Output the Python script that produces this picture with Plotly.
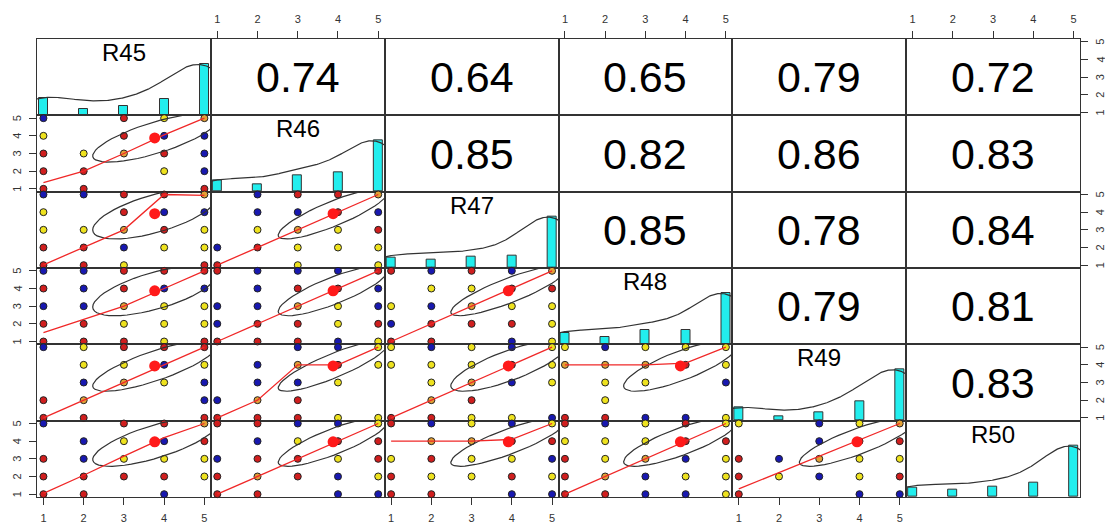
import numpy as np
import plotly.graph_objects as go

variables = ["R45", "R46", "R47", "R48", "R49", "R50"]
levels = [1, 2, 3, 4, 5]
tick_labels = ["1", "2", "3", "4", "5"]

count_R45 = [20, 7, 11, 19, 58]
count_R46 = [12, 8, 18, 21, 56]
count_R47 = [13, 10, 14, 15, 63]
count_R48 = [13, 9, 17, 17, 59]
count_R49 = [16, 5, 10, 23, 61]
count_R50 = [12, 9, 13, 18, 63]

# correlations shown in the upper panels (row variable with the following ones)
cor_R45 = [0.74, 0.64, 0.65, 0.79, 0.72]
cor_R46 = [0.85, 0.82, 0.86, 0.83]
cor_R47 = [0.85, 0.78, 0.84]
cor_R48 = [0.79, 0.81]
cor_R49 = [0.83]

# scatter points: rows are y = 5..1, characters are x = 1..5
# r = red, y = yellow, b = blue, o = orange, . = no point
pts_R46_R45 = ["b.ryo", "y.rbb", "ryorb", "rr.yb", "rr..r"]
pts_R47_R45 = ["bbrro", "y.rbb", "yyory", "rrbyy", "rry.r"]
pts_R47_R46 = [".brro", ".bbrb", ".yoyr", "bryyy", "r.y.y"]
pts_R48_R45 = ["bbrrr", "rbrbb", "bboyy", "rryyy", "rrryr"]
pts_R48_R46 = ["rbbbr", ".brrb", "bboyb", "brryr", "rrrby"]
pts_R48_R47 = ["rbrbo", ".yyrr", "yboyy", "brrry", "rr.by"]
pts_R49_R45 = ["byrrr", ".yyby", ".boyb", "ro..b", "rr..r"]
pts_R49_R46 = ["..bby", ".bory", ".bby.", "bor..", "rrryy"]
pts_R49_R47 = ["ybyby", "yyyry", ".yoby", ".or..", "rryyb"]
pts_R49_R48 = ["ybyyy", "ooory", ".yy.b", ".y...", "rrbby"]
pts_R50_R45 = ["b.rro", ".bybr", "rbyyy", "rrrry", "rr.b."]
pts_R50_R46 = ["rrbby", ".byrr", "brryr", "rorby", "rr.bb"]
pts_R50_R47 = ["rbyby", ".oorr", "yryyb", "ryyry", "rr.bb"]
pts_R50_R48 = ["rbyry", "yyyrr", "ryoby", "robyy", "rrbby"]
pts_R50_R49 = ["y.byo", "..brr", "rboyy", "rybyr", "r..bb"]

# lowess smooth values at x = 1..5
low_R46_R45 = [1.35, 2.0, 3.0, 4.05, 5.0]
low_R47_R45 = [1.02, 2.0, 3.0, 5.0, 4.95]
low_R47_R46 = [1.0, 2.0, 3.0, 4.0, 5.0]
low_R48_R45 = [1.5, 2.23, 3.0, 4.0, 5.0]
low_R48_R46 = [1.0, 2.0, 3.0, 4.0, 5.0]
low_R48_R47 = [1.0, 2.0, 3.0, 4.0, 5.0]
low_R49_R45 = [1.0, 2.0, 3.0, 4.0, 5.0]
low_R49_R46 = [1.0, 2.0, 4.0, 4.0, 5.0]
low_R49_R47 = [1.0, 2.0, 3.0, 4.0, 5.0]
low_R49_R48 = [4.0, 4.0, 4.0, 4.1, 5.0]
low_R50_R45 = [1.05, 2.07, 3.15, 4.2, 5.0]
low_R50_R46 = [1.0, 2.0, 3.0, 4.0, 5.0]
low_R50_R47 = [4.0, 4.0, 4.0, 4.1, 5.0]
low_R50_R48 = [1.0, 2.0, 3.0, 4.0, 5.0]
low_R50_R49 = [1.3, 2.23, 3.15, 4.08, 5.0]

counts = {"R45": count_R45, "R46": count_R46, "R47": count_R47,
          "R48": count_R48, "R49": count_R49, "R50": count_R50}
cors = {"R45": cor_R45, "R46": cor_R46, "R47": cor_R47, "R48": cor_R48, "R49": cor_R49}
G = globals()

FONT = "Liberation Sans, Arial, Helvetica, sans-serif"
COLORS = {"r": "#D01E1E", "y": "#EEE21E", "b": "#1818B0", "o": "#E3A035"}
FRAME = "#333333"
XR = [0.84, 5.16]
YR = [0.84, 5.16]
n = len(variables)


def raw(v):
    return np.repeat(levels, counts[v]).astype(float)


def get_r(i, j):
    a, b = min(i, j), max(i, j)
    return cors[variables[a]][b - a - 1]


fig = go.Figure()
layout = {}
annotations = []


def ax(k):
    return ("x" if k == 1 else f"x{k}"), ("y" if k == 1 else f"y{k}")


for r in range(n):
    for c in range(n):
        k = r * n + c + 1
        xa, ya = ax(k)
        xkey = "xaxis" if k == 1 else f"xaxis{k}"
        ykey = "yaxis" if k == 1 else f"yaxis{k}"
        xd = dict(domain=[c / n, (c + 1) / n], range=XR, showline=True, mirror=True,
                  linecolor=FRAME, linewidth=1.3, showgrid=False, zeroline=False,
                  showticklabels=False, ticks="", anchor=ya, layer="below traces",
                  automargin=False, fixedrange=True)
        yd = dict(domain=[(n - 1 - r) / n, (n - r) / n], range=(YR if r != c else [0, 1.5]),
                  showline=True, mirror=True, linecolor=FRAME, linewidth=1.3,
                  showgrid=False, zeroline=False, showticklabels=False, ticks="",
                  anchor=xa, layer="below traces", automargin=False, fixedrange=True)
        tick_marks = dict(ticks="outside", ticklen=7, tickwidth=1, tickcolor=FRAME,
                          tickvals=levels)
        tick_text = dict(showticklabels=True, ticktext=tick_labels,
                         tickfont=dict(family=FONT, size=11, color="#333"))
        if r == 0 and c % 2 == 1:
            xd.update(tick_marks, **tick_text, side="top", ticklabelstandoff=3)
        if r == n - 1 and c % 2 == 0:
            xd.update(tick_marks, **tick_text, side="bottom", ticklabelstandoff=4)
        if c == 0 and r % 2 == 1:
            yd.update(tick_marks, side="left")
            for val, lab in zip(levels, tick_labels):
                annotations.append(dict(text=lab, xref="paper", yref=ya, x=0, y=val,
                                        xshift=-20, xanchor="center", yanchor="middle",
                                        textangle=-90, showarrow=False,
                                        font=dict(family=FONT, size=11, color="#333")))
        if c == n - 1 and r % 2 == 0:
            yd.update(tick_marks, side="right")
            for val, lab in zip(levels, tick_labels):
                annotations.append(dict(text=lab, xref="paper", yref=ya, x=1, y=val,
                                        xshift=20, xanchor="center", yanchor="middle",
                                        textangle=-90, showarrow=False,
                                        font=dict(family=FONT, size=11, color="#333")))
        layout[xkey] = xd
        layout[ykey] = yd

        if r == c:
            v = variables[r]
            cnt = np.array(counts[v], dtype=float)
            fig.add_trace(go.Bar(x=levels, y=cnt / cnt.max(), width=0.22, xaxis=xa, yaxis=ya,
                                 marker=dict(color="#22EEEE", line=dict(color="#333", width=1)),
                                 hoverinfo="skip"))
            data = raw(v)
            sd = data.std(ddof=1)
            q1, q3 = np.percentile(data, [25, 75])
            bw = 1.2 * 1.06 * min(sd, (q3 - q1) / 1.34) * len(data) ** (-0.2)
            grid = np.linspace(data.min() - 3 * bw, data.max() + 3 * bw, 512)
            dens = np.exp(-0.5 * ((grid[:, None] - data[None, :]) / bw) ** 2).sum(axis=1)
            dens = dens / dens.max()
            fig.add_trace(go.Scatter(x=grid, y=dens, mode="lines", xaxis=xa, yaxis=ya,
                                     line=dict(color="#333", width=1.2), hoverinfo="skip"))
            annotations.append(dict(text=v, xref=f"{xa} domain", yref=f"{ya} domain",
                                    x=0.5, y=0.825, xanchor="center", yanchor="middle",
                                    showarrow=False,
                                    font=dict(family=FONT, size=24, color="black")))
        elif r < c:
            # empty trace so that the panel and its frame are drawn
            fig.add_trace(go.Scatter(x=[None], y=[None], mode="markers", xaxis=xa, yaxis=ya,
                                     hoverinfo="skip"))
            annotations.append(dict(text=f"{get_r(r, c):.2f}", xref=f"{xa} domain",
                                    yref=f"{ya} domain", x=0.5, y=0.5, xanchor="center",
                                    yanchor="middle", showarrow=False,
                                    font=dict(family=FONT, size=43, color="black")))
        else:
            vy, vx = variables[r], variables[c]
            grid_pts = G[f"pts_{vy}_{vx}"]
            px, py, pc = [], [], []
            for yi, row in enumerate(grid_pts):
                for xi, ch in enumerate(row):
                    if ch != ".":
                        px.append(levels[xi])
                        py.append(levels[len(levels) - 1 - yi])
                        pc.append(COLORS[ch])
            fig.add_trace(go.Scatter(x=px, y=py, mode="markers", xaxis=xa, yaxis=ya,
                                     cliponaxis=False, hoverinfo="skip",
                                     marker=dict(size=7, color=pc,
                                                 line=dict(color="#222", width=1))))
            dx, dy = raw(vx), raw(vy)
            xm, ym, xs, ys = dx.mean(), dy.mean(), dx.std(ddof=1), dy.std(ddof=1)
            rr = get_r(r, c)
            th = 1 / np.sqrt(2)
            ang = np.arange(52) * 2 * np.pi / 51
            unit = np.column_stack([np.cos(ang), np.sin(ang)])
            shape = np.diag([np.sqrt(1 + rr), np.sqrt(1 - rr)]) @ np.array([[th, th], [-th, th]])
            ell = unit @ shape
            fig.add_trace(go.Scatter(x=ell[:, 0] * xs + xm, y=ell[:, 1] * ys + ym, mode="lines",
                                     xaxis=xa, yaxis=ya, hoverinfo="skip",
                                     line=dict(color="#333", width=1.2)))
            fig.add_trace(go.Scatter(x=levels, y=G[f"low_{vy}_{vx}"], mode="lines",
                                     xaxis=xa, yaxis=ya, hoverinfo="skip",
                                     line=dict(color="#F02828", width=1.3)))
            fig.add_trace(go.Scatter(x=[xm], y=[ym], mode="markers", xaxis=xa, yaxis=ya,
                                     hoverinfo="skip",
                                     marker=dict(size=11, color="#FF1A1A")))

fig.update_layout(width=1105, height=524, margin=dict(l=37, r=25, t=39, b=27),
                  plot_bgcolor="white", paper_bgcolor="white", showlegend=False,
                  bargap=0, annotations=annotations, font=dict(family=FONT), **layout)
fig.write_html("out.html", config={"displayModeBar": False},
               post_script="document.body.style.margin='0px';document.body.style.overflow='hidden';")
